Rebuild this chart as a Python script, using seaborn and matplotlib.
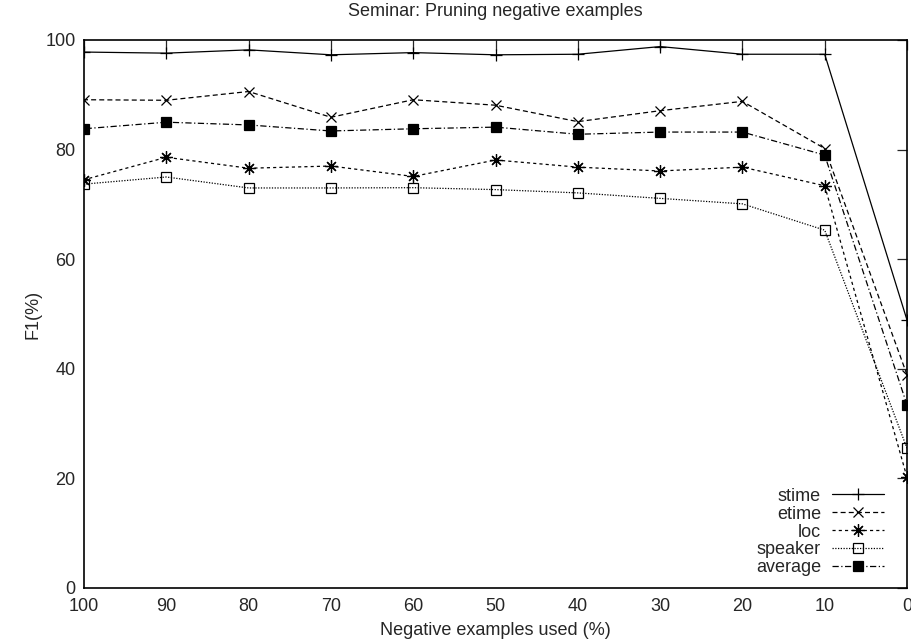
import matplotlib
matplotlib.use("Agg")
import matplotlib.pyplot as plt
import pandas as pd
import seaborn as sns

X_VALUES = [100, 90, 80, 70, 60, 50, 40, 30, 20, 10, 0]
STIME = [97.8, 97.6, 98.2, 97.3, 97.7, 97.3, 97.4, 98.8, 97.4, 97.4, 48.9]
ETIME = [89.1, 89.0, 90.6, 85.9, 89.1, 88.1, 85.1, 87.1, 88.8, 80.2, 38.9]
LOC = [74.5, 78.6, 76.6, 77.0, 75.1, 78.1, 76.8, 76.1, 76.8, 73.4, 20.2]
SPEAKER = [73.7, 75.0, 73.0, 73.0, 73.05, 72.7, 72.1, 71.1, 70.1, 65.3, 25.5]
AVERAGE = [83.8, 85.0, 84.5, 83.4, 83.8, 84.1, 82.8, 83.2, 83.2, 79.0, 33.4]

SERIES = ["stime", "etime", "loc", "speaker", "average"]
X_TICKS = [100, 90, 80, 70, 60, 50, 40, 30, 20, 10, 0]
Y_TICKS = [0, 20, 40, 60, 80, 100]

sns.set_style("white")
plt.rcParams["font.family"] = ["Liberation Sans", "DejaVu Sans"]
plt.rcParams["font.size"] = 13

data = pd.DataFrame({
    "x": X_VALUES * 5,
    "y": STIME + ETIME + LOC + SPEAKER + AVERAGE,
    "series": [s for s in SERIES for _ in X_VALUES],
})

styles = {
    "stime": dict(linestyle="-", marker="+", markersize=9, mfc="black"),
    "etime": dict(linestyle=(0, (4, 2.5)), marker="x", markersize=7, mfc="black"),
    "loc": dict(linestyle=(0, (2.5, 2.5)), marker=(8, 2, 0), markersize=9, mfc="black"),
    "speaker": dict(linestyle=(0, (1, 1.2)), marker="s", markersize=7, fillstyle="none"),
    "average": dict(linestyle=(0, (5, 2, 1, 2)), marker="s", markersize=7, mfc="black"),
}

fig = plt.figure(figsize=(9.11, 6.43), dpi=100)
ax = fig.add_axes([84 / 911, 1 - 588 / 643, (907 - 84) / 911, (588 - 40) / 643])

for name in SERIES:
    sub = data[data["series"] == name]
    sns.lineplot(data=sub, x="x", y="y", ax=ax, color="black", linewidth=0.9,
                 mec="black", mew=0.9, label=name, **styles[name])

ax.set_xlim(100, 0)
ax.set_ylim(0, 100)
ax.set_xticks(X_TICKS)
ax.set_yticks(Y_TICKS)
ax.tick_params(direction="in", length=7, width=0.9, top=True, right=True,
               labelsize=13)
ax.tick_params(axis="x", pad=7)
ax.tick_params(axis="y", pad=6)
for sp in ax.spines.values():
    sp.set_linewidth(1.2)
    sp.set_color("black")

ax.set_xlabel("Negative examples used (%)", fontsize=13, labelpad=5)
ax.set_ylabel("F1(%)", fontsize=13, labelpad=3)
ax.set_title("Seminar: Pruning negative examples", fontsize=13, pad=17)

ax.legend(loc="lower right", frameon=False, markerfirst=False, handlelength=2.9,
          handletextpad=0.6, labelspacing=0.05, fontsize=13,
          borderaxespad=0.0, bbox_to_anchor=(0.981, 0.008))

fig.savefig("out.png", dpi=100)
